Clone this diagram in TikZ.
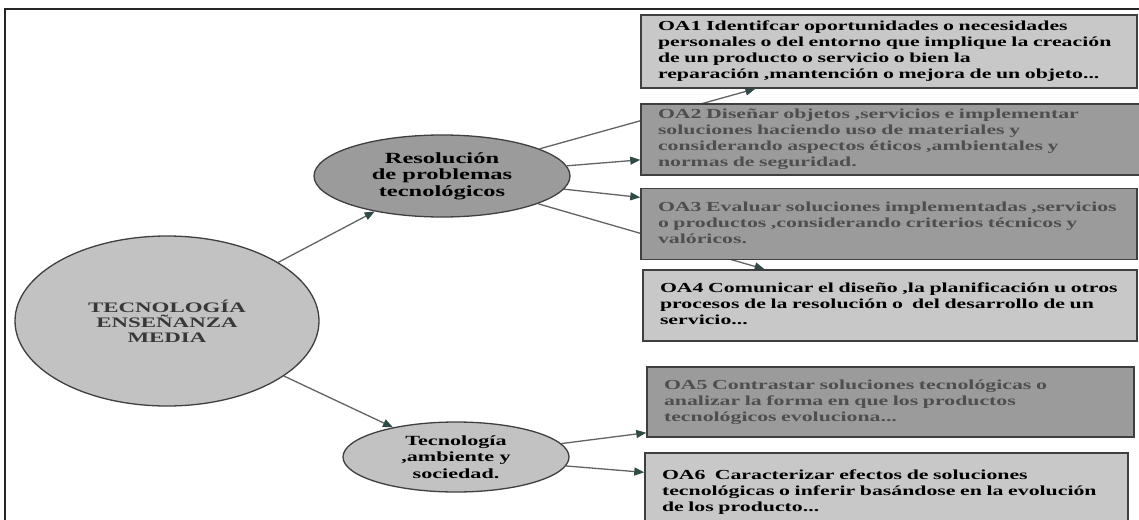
\documentclass[tikz,border=0pt]{standalone}
\usepackage{fontspec}
\newfontfamily\oafont[FakeStretch=1.58]{Liberation Serif}
\usetikzlibrary{arrows.meta,shapes.geometric}
\pgfdeclarelayer{fondo}
\pgfsetlayers{fondo,main}
\definecolor{grisclaro}{HTML}{C8C8C8}
\definecolor{grisoscuro}{HTML}{9B9B9B}
\definecolor{borde}{HTML}{3F3F3F}
\definecolor{linea}{HTML}{606462}
\definecolor{punta}{HTML}{2F4B47}
\definecolor{textogris}{HTML}{4E4E4E}
% lineas sin corte dentro de las cajas
\newcommand{\lineas}[1]{\begin{tabular}{@{}l@{}}#1\end{tabular}}

\begin{document}
\begin{tikzpicture}[x=1pt, y=-1pt,
    oabox/.style={rectangle, draw=borde, line width=1.5pt, inner xsep=17pt, inner ysep=0pt,
        font=\oafont\bfseries\fontsize{13.8}{16}\selectfont},
    claro/.style={oabox, fill=grisclaro, text=black},
    oscuro/.style={oabox, fill=grisoscuro, text=textogris},
    elipse/.style={ellipse, draw=borde, line width=1.3pt, inner sep=0pt, align=center},
    conn/.style={draw=linea, line width=1.3pt, -{Triangle[length=10pt, width=8pt, color=punta]}}]
    \useasboundingbox (0,0) rectangle (1139,519);
    \clip (0,0) rectangle (1139,519);

    % marco
    \draw[line width=1.5pt, draw=black!85] (5,540) -- (5,9) -- (1150,9);

    % elipses
    \node[elipse, fill=grisclaro!97!black, minimum width=304, minimum height=170, text=black!78,
        font=\oafont\bfseries\fontsize{14.5}{15}\selectfont] (tec) at (167,321)
        {TECNOLOGÍA\\ENSEÑANZA\\MEDIA};
    \node[elipse, fill=grisoscuro, minimum width=256, minimum height=82,
        font=\oafont\bfseries\fontsize{15.5}{16.5}\selectfont] (res) at (442,176)
        {Resolución\\de problemas\\tecnológicos};
    \node[elipse, fill=grisclaro!97!black, minimum width=226, minimum height=70,
        font=\oafont\bfseries\fontsize{14}{16.5}\selectfont] (soc) at (456,457)
        {Tecnología\\,ambiente y\\sociedad.};

    % objetivos
    \node[claro, text width=462, minimum height=73] (oa1) at (889,51.5)
        {\lineas{OA1 Identifcar oportunidades o necesidades\\personales o del entorno que implique la creación\\de un producto o servicio o bien la\\reparación ,mantención o mejora de un objeto...}};
    \node[oscuro, text width=465, minimum height=71] (oa2) at (890.5,139.5)
        {\lineas{OA2 Diseñar objetos ,servicios e implementar\\soluciones haciendo uso de materiales y\\considerando aspectos éticos ,ambientales y\\normas de seguridad.}};
    \node[oscuro, text width=462, minimum height=71] (oa3) at (889,224)
        {\lineas{OA3 Evaluar soluciones implementadas ,servicios\\o productos ,considerando criterios técnicos y\\valóricos.}};
    \node[claro, text width=460, minimum height=71] (oa4) at (890,305.5)
        {\lineas{OA4 Comunicar el diseño ,la planificación u otros\\procesos de la resolución o\ \ del desarrollo de un\\servicio...}};
    \node[oscuro, text width=453, minimum height=70] (oa5) at (890.5,402)
        {\lineas{OA5 Contrastar soluciones tecnológicas o\\analizar la forma en que los productos\\tecnológicos evoluciona...}};
    \node[claro, text width=449, minimum height=78] (oa6) at (886.5,492)
        {\lineas{OA6\ \ Caracterizar efectos de soluciones\\tecnológicas o inferir basándose en la evolución\\de los producto...}};

    % flechas
    \begin{pgfonlayer}{fondo}
        \draw[conn] (tec) -- (res);
        \draw[conn] (tec) -- (soc);
        \foreach \b in {oa1,oa2,oa3,oa4} {
            \draw[conn] (res) -- (\b);
        }
        \foreach \b in {oa5,oa6} {
            \draw[conn] (soc) -- (\b);
        }
    \end{pgfonlayer}
\end{tikzpicture}
\end{document}
